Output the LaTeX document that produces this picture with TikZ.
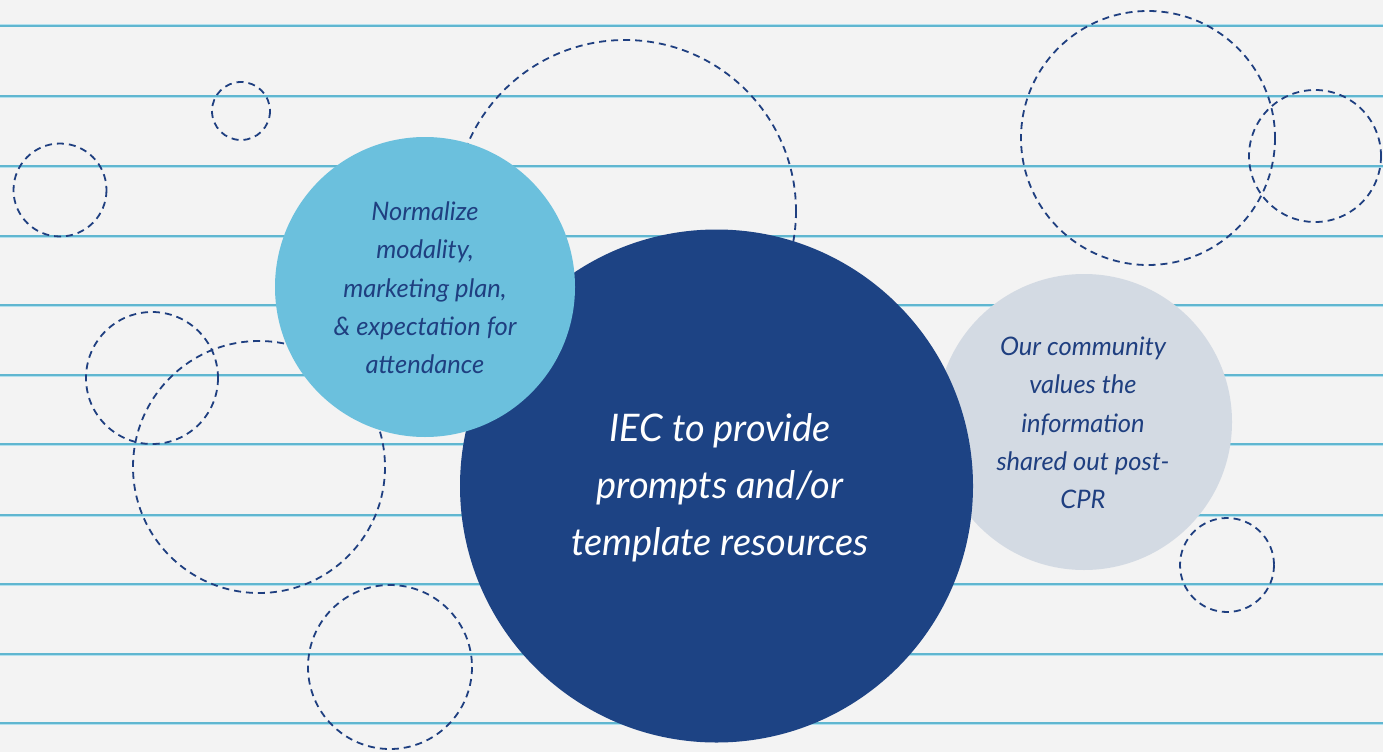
\documentclass[tikz,border=0pt]{standalone}
\usepackage{fontspec}
\newfontfamily\handfont{Lato}
\definecolor{paper}{RGB}{243,243,243}
\definecolor{ruleout}{RGB}{178,224,238}
\definecolor{rulein}{RGB}{96,182,208}
\definecolor{navy}{RGB}{29,67,132}
\definecolor{skyblue}{RGB}{107,192,221}
\definecolor{cloud}{RGB}{211,218,227}
\definecolor{inkblue}{RGB}{31,63,128}
\tikzset{
  ruleline/.style={line width=3pt, ruleout},
  rulecore/.style={line width=1.2pt, rulein},
  dashcircle/.style={draw=inkblue, line width=1.8pt, dash pattern=on 7pt off 5pt},
  smalltext/.style={align=center, text=inkblue, font=\handfont\itshape\fontsize{25.5}{38.3}\selectfont},
  bigtext/.style={align=center, text=white, font=\handfont\itshape\fontsize{38}{57}\selectfont}
}
\begin{document}
\begin{tikzpicture}[x=1pt,y=-1pt]
\useasboundingbox (0,0) rectangle (1383,752);
\fill[paper] (0,0) rectangle (1383,752);
% ruled lines
\foreach \yy in {26,96,166,236,305,375,444,515,584,654,723}{
  \draw[ruleline] (0,\yy) -- (1383,\yy);
  \draw[rulecore] (0,\yy) -- (1383,\yy);
}
% dashed circles
\draw[dashcircle] (241,111) circle[radius=29];
\draw[dashcircle] (60,190) circle[radius=46.5];
\draw[dashcircle] (625,211) circle[radius=171];
\draw[dashcircle] (1148,138) circle[radius=127];
\draw[dashcircle] (1315,156) circle[radius=66];
\draw[dashcircle] (152,378) circle[radius=66];
\draw[dashcircle] (259,467) circle[radius=126];
\draw[dashcircle] (390,667) circle[radius=82];
\draw[dashcircle] (1227,565) circle[radius=47];
% filled circles
\fill[cloud] (1084,422) circle[radius=148];
\fill[navy] (716.5,486) circle[radius=256.5];
\fill[skyblue] (425,287) circle[radius=150];
% texts
\node[smalltext] (normalize) at (425,288) {Normalize\\modality,\\marketing plan,\\\& expectation for\\attendance};
\node[smalltext] (community) at (1083,423) {Our community\\values the\\information\\shared out post-\\CPR};
\node[bigtext] (iec) at (720,488) {IEC to provide\\prompts and/or\\template resources};
\end{tikzpicture}
\end{document}
